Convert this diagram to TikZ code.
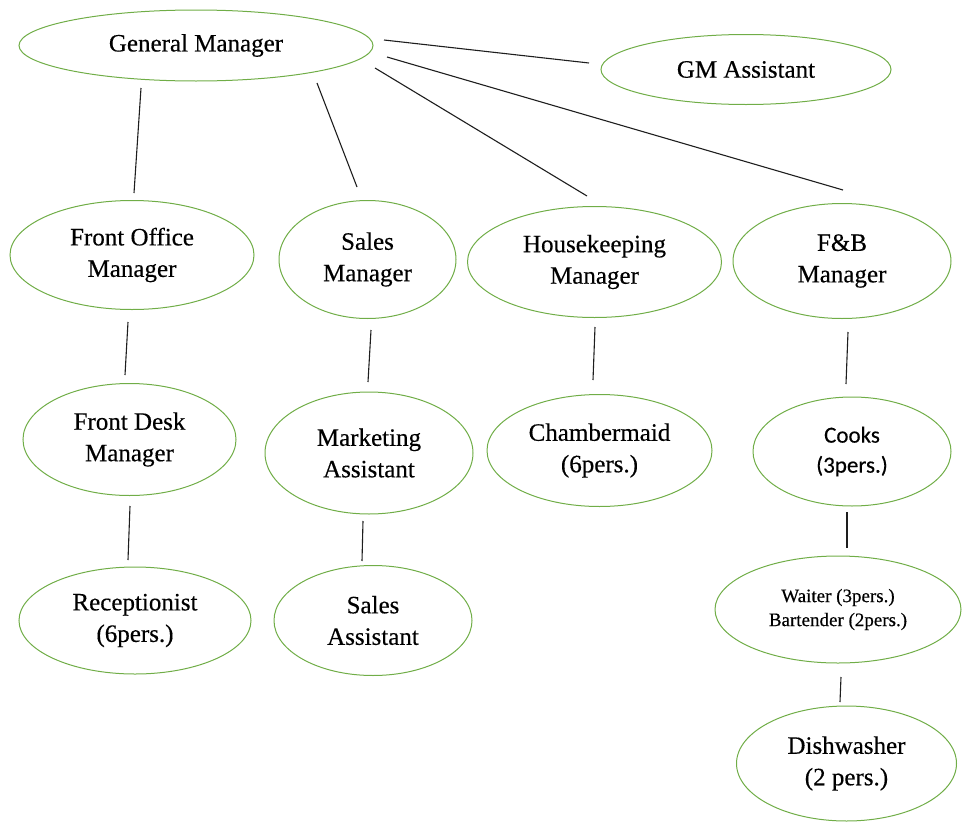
\documentclass[tikz,border=0pt]{standalone}
\usepackage{fontspec}
\setmainfont{Liberation Serif}
\newfontfamily\timesfont[FakeBold=0.4]{Liberation Serif}
\newfontfamily\calibrifont[FakeBold=0.3]{Carlito}
\usetikzlibrary{shapes.geometric}
\definecolor{ellgreen}{RGB}{112,173,71}
\definecolor{linkgray}{RGB}{30,30,30}
\tikzset{
  box/.style={ellipse, draw=ellgreen, line width=1pt, inner sep=0pt, align=center,
              font=\timesfont\fontsize{25}{31.5}\selectfont},
  smallbox/.style={box, font=\timesfont\fontsize{19}{24}\selectfont},
  sansbox/.style={box, font=\calibrifont\fontsize{23}{30}\selectfont},
  link/.style={draw=linkgray, line width=1.1pt},
}
\begin{document}
\begin{tikzpicture}[x=1pt,y=-1pt]
\useasboundingbox (0,0) rectangle (962,822);
% nodes
\node[box, minimum width=354pt, minimum height=71pt] (gm) at (196,45.5) {General Manager};
\node[box, minimum width=290pt, minimum height=70pt] (gma) at (746,69.5) {GM Assistant};
\node[box, minimum width=244pt, minimum height=109pt] (fo) at (132,255) {Front Office\\Manager};
\node[box, minimum width=177pt, minimum height=118pt] (sm) at (367.5,259.5) {Sales\\Manager};
\node[box, minimum width=254pt, minimum height=111pt] (hk) at (594.5,262) {Housekeeping\\Manager};
\node[box, minimum width=218pt, minimum height=115pt] (fb) at (842,261) {F\&B\\Manager};
\node[box, minimum width=213pt, minimum height=112pt] (fd) at (129.5,439.5) {Front Desk\\Manager};
\node[box, minimum width=208pt, minimum height=122pt] (ma) at (369,453) {Marketing\\Assistant};
\node[box, minimum width=225pt, minimum height=112pt] (ch) at (599.5,450.5) {Chambermaid\\(6pers.)};
\node[sansbox, minimum width=198pt, minimum height=109pt] (co) at (852,451.5) {Cooks\\(3pers.)};
\node[box, minimum width=232pt, minimum height=107pt] (re) at (135,620.5) {Receptionist\\(6pers.)};
\node[box, minimum width=198pt, minimum height=110pt] (sa) at (373,620.5) {Sales\\Assistant};
\node[smallbox, minimum width=246pt, minimum height=107pt] (wa) at (838,609.5) {Waiter (3pers.)\\Bartender (2pers.)};
\node[box, minimum width=220pt, minimum height=115pt] (dw) at (846.5,763.5) {Dishwasher\\(2 pers.)};
% connector end points
\coordinate (gm-gma-a) at (384,40);   \coordinate (gm-gma-b) at (589,63);
\coordinate (gm-fo-a) at (141,88);    \coordinate (gm-fo-b) at (134,193);
\coordinate (gm-sm-a) at (317,83);    \coordinate (gm-sm-b) at (357,187);
\coordinate (gm-hk-a) at (375,68);    \coordinate (gm-hk-b) at (587,196);
\coordinate (gm-fb-a) at (387,57);    \coordinate (gm-fb-b) at (843,190);
\coordinate (fo-fd-a) at (128,322);   \coordinate (fo-fd-b) at (125,375);
\coordinate (sm-ma-a) at (371,330);   \coordinate (sm-ma-b) at (368,382);
\coordinate (hk-ch-a) at (595,327);   \coordinate (hk-ch-b) at (593,380);
\coordinate (fb-co-a) at (848,332);   \coordinate (fb-co-b) at (846,384);
\coordinate (fd-re-a) at (130,506);   \coordinate (fd-re-b) at (128,560);
\coordinate (ma-sa-a) at (363,521);   \coordinate (ma-sa-b) at (362,561);
\coordinate (co-wa-a) at (847,512);   \coordinate (co-wa-b) at (847,548);
\coordinate (wa-dw-a) at (841,677);   \coordinate (wa-dw-b) at (840,702);
% connectors
\foreach \c in {gm-gma,gm-fo,gm-sm,gm-hk,gm-fb,fo-fd,sm-ma,hk-ch,fb-co,fd-re,ma-sa,co-wa,wa-dw}
  \draw[link] (\c-a) -- (\c-b);
\end{tikzpicture}
\end{document}
